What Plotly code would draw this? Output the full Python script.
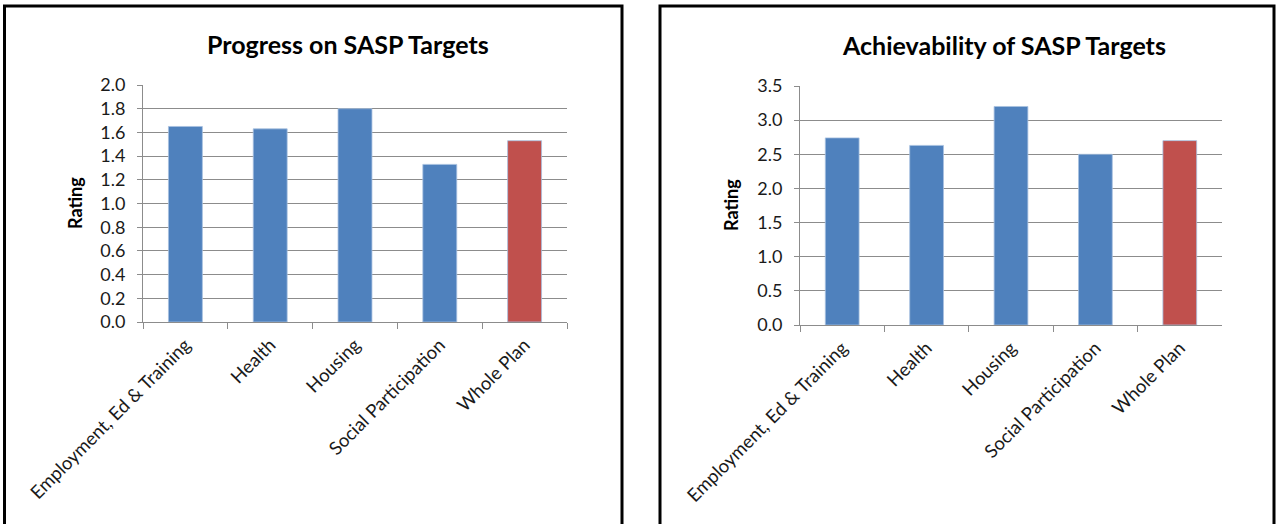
import plotly.graph_objects as go

W, H = 1277, 524

categories = ["Employment, Ed & Training", "Health", "Housing", "Social Participation", "Whole Plan"]
progress = [1.65, 1.63, 1.80, 1.33, 1.53]
achievability = [2.74, 2.63, 3.20, 2.50, 2.70]
bar_colors = ["#4F81BD", "#4F81BD", "#4F81BD", "#4F81BD", "#C0504D"]
titles = ["Progress on SASP Targets", "Achievability of SASP Targets"]
y_title = "Rating"

FONT = "Lato"
GRID = "#8C8C8C"

def px_x(p):
    return p / W

def px_y(p):
    return 1 - p / H

fig = go.Figure()
fig.add_trace(go.Bar(x=categories, y=progress, marker=dict(color=bar_colors, line=dict(color="#A7C0E0", width=0.8)),
                     xaxis="x", yaxis="y", showlegend=False))
fig.add_trace(go.Bar(x=categories, y=achievability, marker=dict(color=bar_colors, line=dict(color="#A7C0E0", width=0.8)),
                     xaxis="x2", yaxis="y2", showlegend=False))

xcommon = dict(tickangle=-45, ticks="outside", tickson="boundaries", ticklen=6, tickcolor=GRID,
               showline=True, linecolor=GRID, linewidth=1, showgrid=False, automargin=False,
               ticklabelstandoff=4,
               tickfont=dict(family=FONT, size=18.5, color="#1A1A1A"))
ycommon = dict(ticks="outside", ticklen=5, tickcolor=GRID, showline=True, linecolor=GRID, linewidth=1,
               showgrid=True, gridcolor=GRID, gridwidth=1, tickformat=".1f", zeroline=False, automargin=False,
               ticklabelstandoff=8,
               tickfont=dict(family=FONT, size=18, color="#1A1A1A"))

fig.update_layout(
    template="none",
    width=W, height=H, margin=dict(l=0, r=0, t=0, b=0, pad=0), autosize=False,
    paper_bgcolor="white", plot_bgcolor="white", bargap=0.6,
    xaxis=dict(domain=[px_x(143), px_x(567)], anchor="y", **xcommon),
    yaxis=dict(domain=[px_y(322), px_y(85)], anchor="x", range=[0, 2.0], dtick=0.2, **ycommon),
    xaxis2=dict(domain=[px_x(800), px_x(1222)], anchor="y2", **xcommon),
    yaxis2=dict(domain=[px_y(325), px_y(86)], anchor="x2", range=[0, 3.5], dtick=0.5, **ycommon),
)

# Frames around each chart
fig.add_shape(type="rect", xref="paper", yref="paper", x0=px_x(4.5), x1=px_x(622), y0=px_y(530), y1=px_y(6),
              line=dict(color="#000000", width=3), fillcolor="rgba(0,0,0,0)")
fig.add_shape(type="rect", xref="paper", yref="paper", x0=px_x(660), x1=px_x(1274), y0=px_y(530), y1=px_y(6),
              line=dict(color="#000000", width=3), fillcolor="rgba(0,0,0,0)")

# Titles
fig.add_annotation(text="<b>%s</b>" % titles[0], xref="paper", yref="paper", x=px_x(348), y=px_y(44),
                   xanchor="center", yanchor="middle",
                   showarrow=False, font=dict(family=FONT, size=25, color="#000000"))
fig.add_annotation(text="<b>%s</b>" % titles[1], xref="paper", yref="paper", x=px_x(1004), y=px_y(45),
                   xanchor="center", yanchor="middle",
                   showarrow=False, font=dict(family=FONT, size=25, color="#000000"))

# Y axis titles
fig.add_annotation(text="<b>%s</b>" % y_title, xref="paper", yref="paper", x=px_x(75), y=px_y(203),
                   xanchor="center", yanchor="middle",
                   showarrow=False, textangle=-90, font=dict(family=FONT, size=18, color="#000000"))
fig.add_annotation(text="<b>%s</b>" % y_title, xref="paper", yref="paper", x=px_x(731), y=px_y(205),
                   xanchor="center", yanchor="middle",
                   showarrow=False, textangle=-90, font=dict(family=FONT, size=18, color="#000000"))

fig.write_html("out.html")
